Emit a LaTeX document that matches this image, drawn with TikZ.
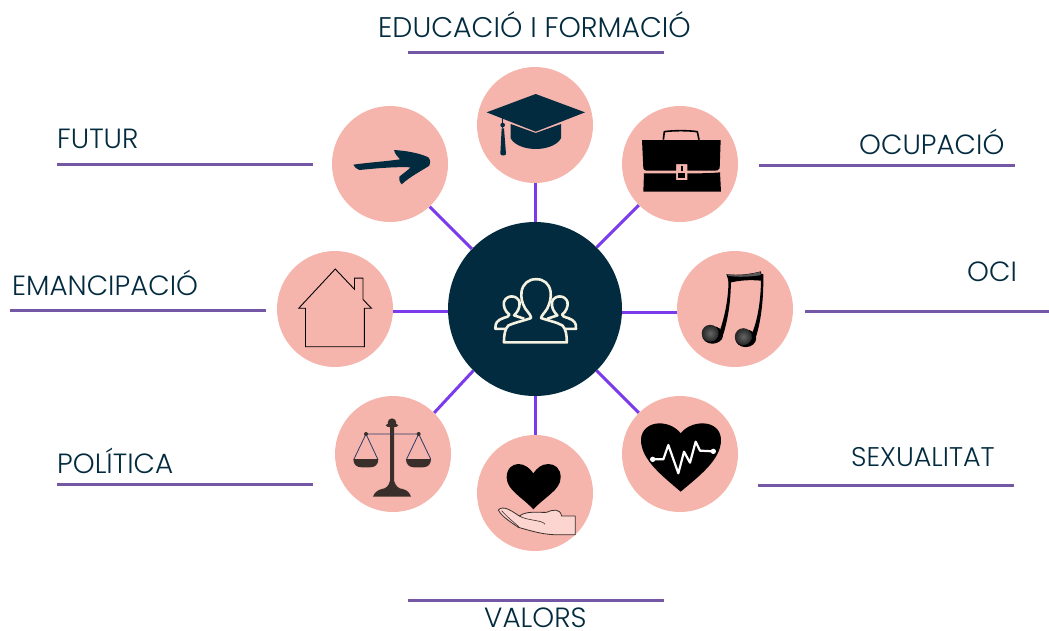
\documentclass[tikz,border=0pt]{standalone}
\usepackage{fontspec}
\setmainfont{Poppins}[UprightFont=* Light]
\definecolor{navy}{HTML}{032B3F}
\definecolor{pinkc}{HTML}{F6B5AC}
\definecolor{violetc}{HTML}{7C3AED}
\definecolor{rulec}{HTML}{7458A6}
\definecolor{creamc}{HTML}{F5F1E0}
\definecolor{brownc}{HTML}{3A2E2A}
\definecolor{bluec}{HTML}{2A3A6A}
\definecolor{handc}{HTML}{FDD5D0}
\tikzset{
  hub/.style={circle,fill=navy,minimum size=174pt,inner sep=0pt},
  topic/.style={circle,fill=pinkc,minimum size=116pt,inner sep=0pt},
  spoke/.style={draw=violetc,line width=3pt},
  rulel/.style={draw=rulec,line width=3pt},
  lab/.style={text=navy,font=\fontsize{27.8}{30}\selectfont,inner sep=0pt,anchor=base west},
  zoomA/.style={shift={(320,60)},x=.33333pt,y=-.33333pt},
  zoomB/.style={shift={(270,220)},x=.33807pt,y=-.33807pt},
  zoomC/.style={shift={(330,390)},x=.33333pt,y=-.33333pt}
}
\begin{document}
\begin{tikzpicture}[x=1pt,y=-1pt]
\useasboundingbox (0,0) rectangle (1049,630);
% nodes
\node[hub] (hub) at (535,309) {};
\node[topic] (fut) at (390,164) {};
\node[topic] (edu) at (535,125) {};
\node[topic] (ocu) at (680,164) {};
\node[topic] (eman) at (335,309) {};
\node[topic] (oci) at (735,309) {};
\node[topic] (pol) at (393,454) {};
\node[topic] (val) at (535,493) {};
\node[topic] (sex) at (680,454) {};
% spokes
\draw[spoke] ([shift={(-1.5,1.5)}]hub.135) -- ([shift={(-1.5,1.5)}]fut.-45);
\draw[spoke] (hub.north) -- (edu.south);
\draw[spoke] (hub.45) -- (ocu.-135);
\draw[spoke] ([shift={(0,3)}]hub.east) -- ([shift={(0,3)}]oci.west);
\draw[spoke] ([shift={(0,2)}]hub.west) -- ([shift={(0,2)}]eman.east);
\draw[spoke] (hub.-135) -- (pol.45);
\draw[spoke] (hub.south) -- (val.north);
\draw[spoke] (hub.-45) -- (sex.135);
% labels and rules
\node[lab] (tfut) at (57,148) {FUTUR};
\node[lab,font=\fontsize{28.4}{30}\selectfont] (tedu) at (378,37) {EDUCACIÓ I FORMACIÓ};
\node[lab] (tocu) at (859,154) {OCUPACIÓ};
\node[lab] (toci) at (967,281) {OCI};
\node[lab] (teman) at (12,295) {EMANCIPACIÓ};
\node[lab] (tpol) at (57,473) {POLÍTICA};
\node[lab,font=\fontsize{27}{30}\selectfont] (tsex) at (851,466) {SEXUALITAT};
\node[lab] (tval) at (484,627) {VALORS};
\coordinate (a1) at (57,164); \coordinate (a2) at (313,164);
\coordinate (b1) at (408,52); \coordinate (b2) at (664,52);
\coordinate (c1) at (759,165); \coordinate (c2) at (1015,165);
\coordinate (d1) at (10,310); \coordinate (d2) at (266,310);
\coordinate (e1) at (805,311); \coordinate (e2) at (1049,311);
\coordinate (f1) at (57,484); \coordinate (f2) at (313,484);
\coordinate (g1) at (758,485); \coordinate (g2) at (1014,485);
\coordinate (h1) at (408,600); \coordinate (h2) at (664,600);
\foreach \p/\q in {a1/a2,b1/b2,c1/c2,d1/d2,e1/e2,f1/f2,g1/g2,h1/h2}{\draw[rulel] (\p) -- (\q);}
% arrow
\begin{scope}[zoomA]
\fill[navy] (100,314) .. controls (140,308) and (190,305) .. (240,298)
  .. controls (235,290) and (225,285) .. (222,270)
  .. controls (260,272) and (300,280) .. (325,292)
  .. controls (332,300) and (332,310) .. (328,317)
  .. controls (300,335) and (270,350) .. (245,373)
  .. controls (238,365) and (236,355) .. (238,350)
  .. controls (250,340) and (262,332) .. (272,322)
  .. controls (220,320) and (170,325) .. (118,330)
  .. controls (108,328) and (104,320) .. (100,314) -- cycle;
% cap
\fill[navy] (647,102) -- (795,157) -- (647,215) -- (500,157) -- cycle;
\fill[navy] (572,192) -- (647,219) -- (723,192) -- (723,235)
  .. controls (710,258) and (675,267) .. (647,267)
  .. controls (620,267) and (585,258) .. (572,235) -- cycle;
\draw[navy,line width=1.2pt] (548,172) -- (548,205);
\fill[navy] (548,195) circle (7);
\fill[navy] (545,205) -- (552,205) -- (558,282) .. controls (556,288) and (543,288) .. (541,282) -- cycle;
% briefcase
\fill[black] (966,240) -- (1202,240) -- (1199,325) .. controls (1198,331) and (1190,332) .. (1180,332)
  -- (1102,332) -- (1102,312) -- (1068,312) -- (1068,332) -- (985,332)
  .. controls (975,332) and (971,330) .. (970,325) -- cycle;
\fill[black] (972,340) .. controls (1000,340) and (1040,340) .. (1068,340) -- (1068,360) -- (1102,360) -- (1102,340)
  .. controls (1140,340) and (1170,340) .. (1200,337) -- (1203,395) -- (970,395) -- cycle;
\fill[black] (1075,340) rectangle (1095,354);
\fill[black] (1083,318) rectangle (1088,333);
\draw[black,line width=1.6pt,line join=round] (1030,239) -- (1033,215) .. controls (1060,211) and (1105,211) .. (1132,215) -- (1137,239);
\end{scope}
\begin{scope}[zoomB]
% house
\draw[black,line width=.9pt,line join=miter] (85,261) -- (193,145) -- (250,205) -- (250,172) -- (275,172) -- (275,235) -- (300,261) -- (279,261) -- (279,375) -- (105,375) -- (105,261) -- cycle;
% people
\begin{scope}[draw=creamc,line width=2.6pt,line join=round]
\draw (692,362) .. controls (692,340) and (695,322) .. (705,312)
  .. controls (725,303) and (750,298) .. (772,290) .. controls (772,282) and (765,275) .. (755,262)
  .. controls (745,245) and (742,230) .. (744,212) .. controls (748,188) and (765,175) .. (787,175)
  .. controls (810,175) and (826,188) .. (830,212) .. controls (832,230) and (828,245) .. (820,262)
  .. controls (812,275) and (803,282) .. (802,290) .. controls (825,298) and (850,303) .. (865,312)
  .. controls (875,322) and (878,340) .. (878,362) -- cycle;
\draw (700,322) -- (667,322) .. controls (665,305) and (672,297) .. (690,290)
  .. controls (700,287) and (708,285) .. (708,280) .. controls (695,270) and (690,255) .. (692,243)
  .. controls (695,232) and (705,226) .. (715,226) .. controls (725,226) and (735,232) .. (738,243)
  .. controls (740,260) and (732,272) .. (722,282) -- (752,292);
\draw (872,322) -- (905,322) .. controls (907,305) and (900,297) .. (882,290)
  .. controls (872,287) and (864,285) .. (864,280) .. controls (877,270) and (882,255) .. (880,243)
  .. controls (877,232) and (867,226) .. (857,226) .. controls (847,226) and (837,232) .. (834,243)
  .. controls (832,260) and (840,272) .. (850,282) -- (820,292);
\end{scope}
% notes
\fill[black] (1350,160) .. controls (1385,165) and (1420,160) .. (1452,152) -- (1457,180)
  .. controls (1420,176) and (1390,178) .. (1358,186) -- cycle;
\fill[black!65!white] (1352,160) .. controls (1385,165) and (1420,162) .. (1450,153) -- (1452,163) .. controls (1420,168) and (1385,170) .. (1355,165) -- cycle;
\fill[black] (1356,165) -- (1363,170) .. controls (1365,240) and (1352,310) .. (1335,355) -- (1328,335) .. controls (1344,290) and (1358,230) .. (1356,165) -- cycle;
\fill[black] (1452,160) -- (1459,160) .. controls (1461,240) and (1450,320) .. (1430,365) -- (1424,340) .. controls (1442,300) and (1454,230) .. (1452,160) -- cycle;
\fill[black] (1309,340) ellipse (31 and 26);
\fill[black] (1407,350) ellipse (31 and 26);
\shade[inner color=black!60!white,outer color=black!85!white] (1302,335) circle (25);
\shade[inner color=black!60!white,outer color=black!85!white] (1400,345) circle (25);
\end{scope}
\begin{scope}[zoomC]
% scales
\fill[brownc] (180,105) -- (192,105) -- (192,272) .. controls (197,290) and (207,296) .. (218,297)
  .. controls (232,300) and (240,310) .. (243,320) -- (129,320) .. controls (133,308) and (143,300) .. (155,297)
  .. controls (167,296) and (177,288) .. (180,272) -- cycle;
\fill[brownc] (186,98) circle (13);
\fill[brownc] (186,106) ellipse (19 and 6);
\draw[bluec,line width=.8pt] (108,132) -- (266,132)
  (72,207) -- (108,132) -- (143,207)
  (230,207) -- (266,132) -- (302,207);
\fill[brownc] (108,132) circle (6) (266,132) circle (6);
\fill[brownc] (70,207) -- (145,207) .. controls (145,224) and (135,232) .. (120,232) -- (95,232) .. controls (80,232) and (70,224) .. (70,207) -- cycle;
\fill[brownc] (228,207) -- (303,207) .. controls (303,224) and (293,232) .. (278,232) -- (253,232) .. controls (238,232) and (228,224) .. (228,207) -- cycle;
% heart and hand
\fill[black] (610,358) .. controls (575,320) and (530,300) .. (530,262) .. controls (530,235) and (548,222) .. (565,222)
  .. controls (585,222) and (600,235) .. (610,250) .. controls (620,235) and (635,222) .. (655,222)
  .. controls (675,222) and (692,235) .. (692,262) .. controls (692,300) and (645,320) .. (610,358) -- cycle;
\draw[fill=handc,draw=brownc,line width=.8pt,line join=round] (505,360) .. controls (510,352) and (525,353) .. (535,358)
  .. controls (550,365) and (558,372) .. (568,378) .. controls (590,362) and (620,368) .. (650,367)
  .. controls (670,358) and (690,355) .. (695,378) -- (736,378) -- (736,434) -- (670,434)
  .. controls (630,432) and (595,420) .. (565,412) .. controls (545,398) and (515,380) .. (505,360) -- cycle;
\draw[brownc,line width=.6pt] (568,378) .. controls (590,392) and (640,390) .. (645,403)
  (515,362) .. controls (530,380) and (550,395) .. (568,412);
% pulse heart
\fill[black] (1052,305) .. controls (1000,260) and (933,210) .. (933,150) .. controls (933,118) and (960,100) .. (988,100)
  .. controls (1015,100) and (1038,112) .. (1052,130) .. controls (1066,112) and (1090,100) .. (1118,100)
  .. controls (1148,100) and (1173,118) .. (1173,150) .. controls (1173,210) and (1105,260) .. (1052,305) -- cycle;
\draw[white,line width=2.2pt,line join=round] (968,208) -- (1000,208) -- (1015,165) -- (1045,250) -- (1062,185) -- (1080,218) -- (1097,155) -- (1110,182) -- (1150,184);
\fill[white] (968,208) circle (8) (1150,184) circle (8);
\end{scope}
\end{tikzpicture}
\end{document}
